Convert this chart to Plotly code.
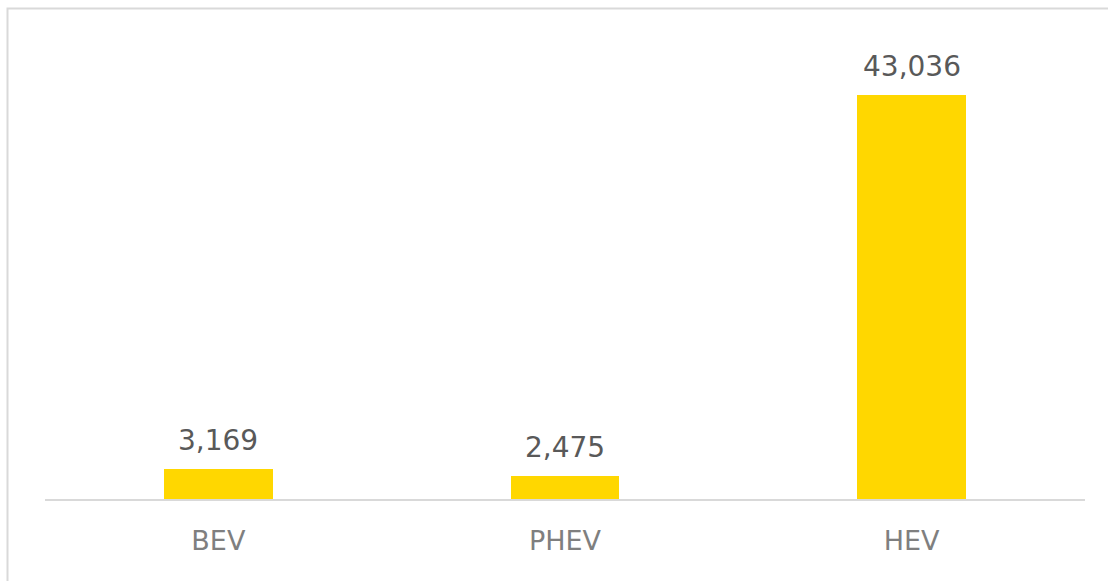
import plotly.graph_objects as go

categories = ["BEV", "PHEV", "HEV"]
values = [3169, 2475, 43036]
value_labels = ["3,169", "2,475", "43,036"]

W, H = 1108, 581
L, R, T, B = 45, 1085, 30, 499  # plot area pixel bounds

fig = go.Figure()
fig.add_trace(go.Bar(
    x=categories, y=values, width=0.314,
    marker=dict(color="#FFD700", line=dict(width=0)),
    hoverinfo="skip",
))

for c, v, t in zip(categories, values, value_labels):
    fig.add_annotation(x=c, y=v, text=t, showarrow=False, yanchor="bottom",
                       yshift=10, font=dict(family="DejaVu Sans", size=28, color="#595959"))

pw, ph = R - L, B - T
fig.add_shape(type="rect", xref="paper", yref="paper",
              x0=(7.5 - L) / pw, x1=(1120 - L) / pw,
              y0=(B - 600) / ph, y1=(B - 8.5) / ph,
              line=dict(color="#D9D9D9", width=2), fillcolor="rgba(0,0,0,0)", layer="below")

fig.update_layout(
    width=W, height=H,
    margin=dict(l=L, r=W - R, t=T, b=H - B, pad=0),
    paper_bgcolor="white", plot_bgcolor="white",
    showlegend=False,
    bargap=0,
    hovermode=False,
    xaxis=dict(showgrid=False, showline=True, linecolor="#D9D9D9", linewidth=2,
               ticks="", ticklabelstandoff=17, fixedrange=True,
               tickfont=dict(family="DejaVu Sans", size=27, color="#7F7F7F")),
    yaxis=dict(range=[0, 50000], visible=False, showgrid=False, zeroline=False, fixedrange=True),
)
fig.write_html("out.html", config={"displayModeBar": False},
               post_script="document.body.style.margin='0';document.body.style.overflow='hidden';")
